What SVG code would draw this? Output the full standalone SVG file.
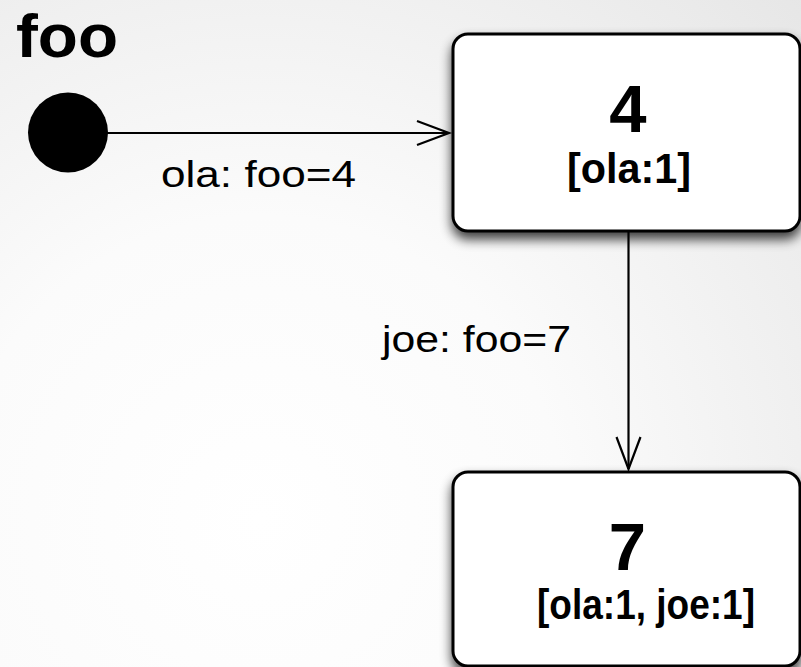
<svg xmlns="http://www.w3.org/2000/svg" width="801" height="667" viewBox="0 0 801 667">
<defs>
<radialGradient id="bg" gradientUnits="userSpaceOnUse" cx="260" cy="520" r="760">
<stop offset="0" stop-color="#ffffff"/>
<stop offset="0.4" stop-color="#fbfbfb"/>
<stop offset="1" stop-color="#e6e6e6"/>
</radialGradient>
<filter id="shadow" x="-20%" y="-20%" width="140%" height="150%">
<feGaussianBlur in="SourceAlpha" stdDeviation="6"/>
<feOffset dx="0" dy="7" result="b"/>
<feComponentTransfer><feFuncA type="linear" slope="0.75"/></feComponentTransfer>
<feMerge><feMergeNode/><feMergeNode in="SourceGraphic"/></feMerge>
</filter>
<marker id="open" markerWidth="40" markerHeight="30" viewBox="0 0 40 30" refX="35" refY="15" orient="auto" markerUnits="userSpaceOnUse">
<path d="M3,3 L35,15 L3,27" fill="none" stroke="#000" stroke-width="2.2"/>
</marker>
</defs>
<style>
.box{fill:#fff;stroke:#000;stroke-width:3}
.edge{fill:none;stroke:#000;stroke-width:2.2}
.t{font-family:"Liberation Sans",Arial,Helvetica,sans-serif;fill:#000}
.b{font-weight:bold}
</style>
<rect width="801" height="667" fill="url(#bg)"/>
<text class="t b" x="16" y="57" font-size="62" textLength="102" lengthAdjust="spacingAndGlyphs">foo</text>
<g id="initial">
<circle cx="68" cy="132.5" r="40" fill="#000"/>
</g>
<g id="connectors">
<line class="edge" x1="106" y1="133" x2="449" y2="133" marker-end="url(#open)"/>
<line class="edge" x1="628.5" y1="232" x2="628.5" y2="469" marker-end="url(#open)"/>
</g>
<text class="t" x="161" y="187" font-size="37" textLength="195" lengthAdjust="spacingAndGlyphs">ola: foo=4</text>
<text class="t" x="382" y="352" font-size="37" textLength="189" lengthAdjust="spacingAndGlyphs">joe: foo=7</text>
<g id="s4">
<rect class="box" x="453" y="34" width="347" height="197" rx="15" filter="url(#shadow)"/>
<text class="t b" x="628" y="132" font-size="67" text-anchor="middle">4</text>
<text class="t b" x="567" y="183" font-size="42" textLength="124" lengthAdjust="spacingAndGlyphs">[ola:1]</text>
</g>
<g id="s7">
<rect class="box" x="453" y="472" width="347" height="194" rx="15" filter="url(#shadow)"/>
<text class="t b" x="627.5" y="569.5" font-size="67" text-anchor="middle">7</text>
<text class="t b" x="537" y="618.5" font-size="42" textLength="218" lengthAdjust="spacingAndGlyphs">[ola:1, joe:1]</text>
</g>
</svg>
